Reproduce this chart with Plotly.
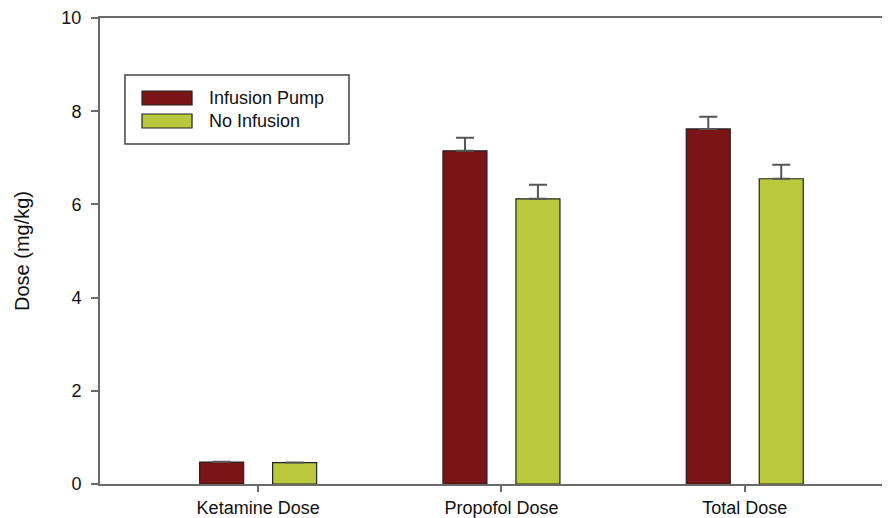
import plotly.graph_objects as go

categories = ["Ketamine Dose", "Propofol Dose", "Total Dose"]
infusion_pump = [0.47, 7.15, 7.62]
infusion_pump_err = [0.01, 0.28, 0.26]
no_infusion = [0.46, 6.12, 6.55]
no_infusion_err = [0.0, 0.30, 0.30]
y_ticks = [0, 2, 4, 6, 8, 10]
series_names = ["Infusion Pump", "No Infusion"]
series_colors = ["#7b1416", "#bac83c"]

fig = go.Figure()
for name, vals, errs, col in [
    (series_names[0], infusion_pump, infusion_pump_err, series_colors[0]),
    (series_names[1], no_infusion, no_infusion_err, series_colors[1]),
]:
    fig.add_trace(go.Bar(
        x=categories, y=vals, name=name,
        marker=dict(color=col, line=dict(color="#222222", width=1.2)),
        error_y=dict(type="data", symmetric=False, array=errs,
                     arrayminus=[0] * len(errs), color="#555555", thickness=2, width=9),
    ))

# custom legend (wide swatches like the original)
shapes = [dict(type="rect", xref="paper", yref="paper", x0=0.0316, x1=0.3152,
               y0=0.7296, y1=0.8777, line=dict(color="#444444", width=1.5),
               fillcolor="white", layer="above")]
sw_y = [(0.8133, 0.8433), (0.7639, 0.7940)]
txt_y = [0.8283, 0.7800]
annotations = []
for i, name in enumerate(series_names):
    shapes.append(dict(type="rect", xref="paper", yref="paper", x0=0.0532, x1=0.1165,
                       y0=sw_y[i][0], y1=sw_y[i][1], fillcolor=series_colors[i],
                       line=dict(color="#222222", width=1.2), layer="above"))
    annotations.append(dict(xref="paper", yref="paper", x=0.1354, y=txt_y[i],
                            xanchor="left", yanchor="middle", text=name, showarrow=False,
                            font=dict(size=18, color="#111111")))

fig.update_layout(
    width=882, height=510,
    margin=dict(l=92, r=0, t=8, b=28),
    paper_bgcolor="white", plot_bgcolor="white",
    barmode="group", bargap=0.4, bargroupgap=0.397,
    font=dict(family="Liberation Sans, Arial, sans-serif", size=18, color="#111111"),
    showlegend=False,
    shapes=shapes, annotations=annotations,
)
fig.update_xaxes(
    range=[-0.65, 2.597], showline=True, linecolor="#6a6a6a", linewidth=2,
    mirror=True, ticks="outside", ticklen=6, tickwidth=2, tickcolor="#6a6a6a",
    showgrid=False, tickfont=dict(size=18), zeroline=False,
)
fig.update_yaxes(
    range=[0, 10], tickvals=y_ticks, showline=True, linecolor="#6a6a6a", linewidth=2,
    mirror=False, ticks="outside", ticklen=7, tickwidth=2, tickcolor="#6a6a6a",
    showgrid=False, zeroline=False, tickfont=dict(size=18), ticklabelstandoff=6,
    ticklabeloverflow="allow",
    title=dict(text="Dose (mg/kg)", font=dict(size=20), standoff=26),
)

fig.write_html("out.html")
